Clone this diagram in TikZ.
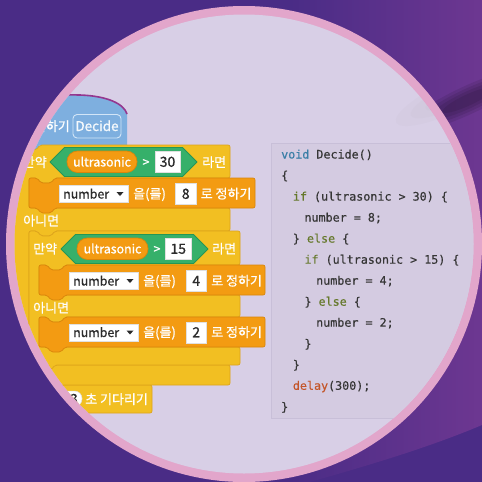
\documentclass[tikz,border=0pt]{standalone}
\usepackage{fontspec}
\newfontfamily\kr[FakeBold=0.9]{Noto Sans CJK KR}
\newfontfamily\mono[FakeBold=0.4]{DejaVu Sans Mono}
\definecolor{bgdark}{HTML}{4A2C86}
\definecolor{bglight}{HTML}{6D3791}
\definecolor{ringc}{HTML}{E2A6CB}
\definecolor{lav}{HTML}{D8CFE6}
\definecolor{ctlfill}{HTML}{F2BF22}
\definecolor{ctledge}{HTML}{DDA41C}
\definecolor{varfill}{HTML}{F39B12}
\definecolor{varedge}{HTML}{D9850B}
\definecolor{opfill}{HTML}{36B06A}
\definecolor{opedge}{HTML}{259656}
\definecolor{hatfill}{HTML}{7EAFDF}
\definecolor{hatedge}{HTML}{94378F}
\definecolor{codebg}{HTML}{D4CBE1}
\definecolor{codeedge}{HTML}{C8BFD8}
\definecolor{codetxt}{HTML}{363636}
\definecolor{kwblue}{HTML}{3A7EA6}
\definecolor{kwolive}{HTML}{66792C}
\definecolor{kworange}{HTML}{C4562A}
\definecolor{numtxt}{HTML}{2B2B2B}
\definecolor{decline}{HTML}{D2E5F7}
\newcommand\stackblk[5]{%
 \draw[#1] (#2,#3) -- ++(8,0) -- ++(4,5) -- ++(10,0) -- ++(4,-5) -- ({#2+#4},#3) -- ({#2+#4},{#3+#5}) -- ({#2+26},{#3+#5}) -- ++(-4,5) -- ++(-10,0) -- ++(-4,-5) -- (#2,{#3+#5}) -- cycle;}
\begin{document}
\begin{tikzpicture}[x=1pt,y=-1pt,
  ctl/.style={fill=ctlfill,draw=ctledge,line width=0.7pt,rounded corners=2pt},
  var/.style={fill=varfill,draw=varedge,line width=0.7pt,rounded corners=2pt},
  op/.style={fill=opfill,draw=opedge,line width=0.8pt,line join=round},
  pill/.style={fill=varfill,draw=varedge,line width=0.7pt,rounded corners=10.5pt},
  wbox/.style={fill=white,draw=black!12,line width=0.5pt},
  ko/.style={font={\kr\fontsize{13}{13}\selectfont},text=white,inner sep=0pt,anchor=base west},
  la/.style={font={\kr\fontsize{12.4}{12.4}\selectfont},inner sep=0pt,anchor=base},
  dg/.style={font={\kr\fontsize{14}{14}\selectfont},text=numtxt,inner sep=0pt,anchor=base},
  cd/.style={font={\mono\fontsize{11.7}{11.7}\selectfont},text=codetxt,inner sep=0pt,anchor=base west}]
\useasboundingbox (0,0) rectangle (482,482);
% background
\fill[bgdark] (0,0) rectangle (482,482);
\shade[left color=bgdark,right color=bglight] (290,0) -- (482,0) -- (482,425) .. controls (430,447) and (370,465) .. (310,482) -- (290,482) -- cycle;
\foreach \s in {1,0.8,0.6,0.4}{
  \fill[black,opacity=0.09] (468,100) ellipse [x radius={70*\s},y radius={14*\s},rotate=25];
}
% disc
\fill[ringc] (244,244) circle (238);
\fill[lav] (244,244) circle (229.5);
\begin{scope}
\clip (244,244) circle (229.5);
\foreach \s in {1,0.75,0.5}{
  \fill[black!50,opacity=0.03] (455,95) ellipse [x radius={65*\s},y radius={16*\s},rotate=25];
}
% hat block
\fill[hatfill] (14,94) -- (80,95) .. controls (108,96) and (124,104) .. (127,114) -- (127,145) -- (40,145) -- (36,150) -- (26,150) -- (22,145) -- (14,145) -- cycle;
\draw[hatedge,line width=1.6pt] (14,94) -- (80,95) .. controls (108,96) and (124,104) .. (127,114);
\draw[decline,line width=0.9pt,rounded corners=4pt] (73,114.5) rectangle (121,138);
\node[ko,anchor=base east] (def) at (70,131) {함수 정의하기};
\node[la,font={\kr\fontsize{13.5}{13.5}\selectfont},text=white!92!hatfill] (dec) at (97,131) {Decide};
% wait block
\draw[ctl] (14,385) -- (22,385) -- (26,390) -- (36,390) -- (40,385) -- (152,385) -- (152,413) -- (14,413) -- cycle;
% outer if-else
\draw[ctl] (14,145) -- (22,145) -- (26,150) -- (36,150) -- (40,145) -- (230,145) -- (230,178) -- (55,178) -- (51,183) -- (41,183) -- (37,178) -- (29,178) -- (29,208) -- (230,208) -- (230,231) -- (55,231) -- (51,236) -- (41,236) -- (37,231) -- (29,231) -- (29,365) -- (230,365) -- (230,385) -- (40,385) -- (36,390) -- (26,390) -- (22,385) -- (14,385) -- cycle;
% inner if-else
\draw[ctl] (29,231) -- (37,231) -- (41,236) -- (51,236) -- (55,231) -- (240,231) -- (240,265) -- (65,265) -- (61,270) -- (51,270) -- (47,265) -- (39,265) -- (39,295) -- (240,295) -- (240,317) -- (65,317) -- (61,322) -- (51,322) -- (47,317) -- (39,317) -- (39,347) -- (240,347) -- (240,365) -- (55,365) -- (51,370) -- (41,370) -- (37,365) -- (29,365) -- cycle;
% set blocks
\stackblk{var}{29}{178}{226}{30}
\stackblk{var}{39}{265}{226}{30}
\stackblk{var}{39}{317}{226}{30}
% row: if ultrasonic > 30
\node[ko,anchor=base east] (m1) at (47,167) {만약};
\draw[op] (50,162) -- (64.5,147.5) -- (182.5,147.5) -- (197,162) -- (182.5,176.5) -- (64.5,176.5) -- cycle;
\draw[pill] (67,151) rectangle (137,172.5);
\node[la,text=white] (u1) at (102,166.5) {ultrasonic};
\node[la,text=white] (g1) at (146,166.5) {>};
\draw[wbox] (155,151.5) rectangle (180,172.5);
\node[dg] (n1) at (167.5,166.8) {30};
\node[ko] (r1) at (202,167) {라면};
% set number 8
\draw[wbox] (59,185.5) rectangle (128,202.5);
\node[la,anchor=base west,text=numtxt] (v1) at (63,198.5) {number};
\fill[numtxt] (116.5,192) -- (123.5,192) -- (120,196) -- cycle;
\node[ko] (e1) at (133,198.5) {을(를)};
\draw[wbox] (175.5,183.5) rectangle (196,204.5);
\node[dg] (k1) at (185.75,198.8) {8};
\node[ko] (s1) at (200.5,198.5) {로 정하기};
\node[ko] (a1) at (23,225.5) {아니면};
% row: if ultrasonic > 15
\node[ko] (m2) at (33,253.6) {만약};
\draw[op] (61,249) -- (75.5,234.5) -- (193.5,234.5) -- (208,249) -- (193.5,263.5) -- (75.5,263.5) -- cycle;
\draw[pill] (77,238) rectangle (148,259.5);
\node[la,text=white] (u2) at (112.5,253.4) {ultrasonic};
\node[la,text=white] (g2) at (157,253.4) {>};
\draw[wbox] (165.5,238.5) rectangle (191,259.5);
\node[dg] (n2) at (178.25,253.8) {15};
\node[ko] (r2) at (212,253.6) {라면};
% set number 4
\draw[wbox] (69,272.5) rectangle (138,289.5);
\node[la,anchor=base west,text=numtxt] (v2) at (73,285.5) {number};
\fill[numtxt] (126.5,279) -- (133.5,279) -- (130,283) -- cycle;
\node[ko] (e2) at (143,285.6) {을(를)};
\draw[wbox] (186,270.5) rectangle (206.5,291.5);
\node[dg] (k2) at (196.25,285.8) {4};
\node[ko] (s2) at (211,285.6) {로 정하기};
\node[ko] (a2) at (33,312.6) {아니면};
% set number 2
\draw[wbox] (69,324) rectangle (138,341);
\node[la,anchor=base west,text=numtxt] (v3) at (73,337) {number};
\fill[numtxt] (126.5,330.5) -- (133.5,330.5) -- (130,334.5) -- cycle;
\node[ko] (e3) at (143,337) {을(를)};
\draw[wbox] (186,322) rectangle (206.5,343);
\node[dg] (k3) at (196.25,337.3) {2};
\node[ko] (s3) at (211,337) {로 정하기};
% wait
\draw[wbox,rounded corners=7.5pt] (40,391) rectangle (82,406.5);
\node[dg,anchor=base east] (t0) at (78,404) {0.3};
\node[ko] (w1) at (85,404) {초 기다리기};
% code panel
\draw[fill=codebg,draw=codeedge,line width=0.6pt] (271,143) rectangle (520,418);
\node[cd] (c0) at (281,158.5) {\textcolor{kwblue}{void} Decide()};
\node[cd] (c1) at (281,179.5) {\{};
\node[cd] (c2) at (292.7,200.6) {\textcolor{kwolive}{if} (ultrasonic > 30) \{};
\node[cd] (c3) at (304.3,221.6) {number = 8;};
\node[cd] (c4) at (292.7,242.6) {\} \textcolor{kwolive}{else} \{};
\node[cd] (c5) at (304.3,263.7) {\textcolor{kwolive}{if} (ultrasonic > 15) \{};
\node[cd] (c6) at (316,284.7) {number = 4;};
\node[cd] (c7) at (304.3,305.7) {\} \textcolor{kwolive}{else} \{};
\node[cd] (c8) at (316,326.7) {number = 2;};
\node[cd] (c9) at (304.3,347.8) {\}};
\node[cd] (c10) at (292.7,368.8) {\}};
\node[cd] (c11) at (292.7,389.8) {\textcolor{kworange}{delay}(300);};
\node[cd] (c12) at (281,410.9) {\}};
\end{scope}
\end{tikzpicture}
\end{document}
